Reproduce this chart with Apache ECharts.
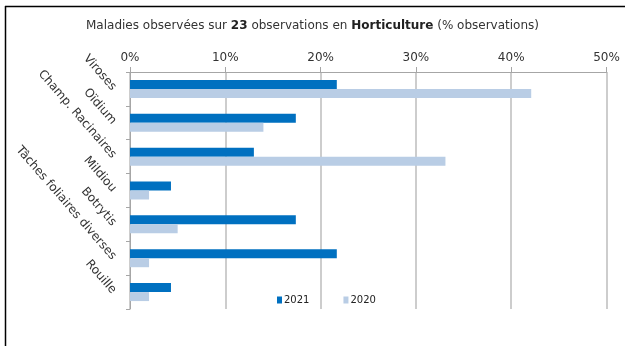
<!DOCTYPE html>
<html><head><meta charset="utf-8">
<script src="https://cdn.jsdelivr.net/npm/echarts@6/dist/echarts.min.js"></script>
<style>html,body{margin:0;padding:0;background:#fff}#c{width:625px;height:346px}</style>
</head><body><div id="c"></div>
<script>
const categories = ["Viroses","Oïdium","Champ. Racinaires","Mildiou","Botrytis","Tâches foliaires diverses","Rouille"];
const values2021 = [21.7, 17.4, 13.0, 4.3, 17.4, 21.7, 4.3];
const values2020 = [42.1, 14.0, 33.1, 2.0, 5.0, 2.0, 2.0];
const tickLabels = ["0%","10%","20%","30%","40%","50%"];
const seriesNames = ["2021","2020"];

const chart = echarts.init(document.getElementById('c'), null, {renderer:'canvas'});
const font = 'Tahoma, "DejaVu Sans", sans-serif';
chart.setOption({
  animation:false,
  textStyle:{fontFamily:font},
  title:{
    text:'Maladies observées sur {b|23} observations en {b|Horticulture} (% observations)',
    left:'center', top:15,
    textStyle:{fontSize:12, fontWeight:'normal', color:'#333', fontFamily:font,
      rich:{b:{fontWeight:'bold', fontSize:12, color:'#222', fontFamily:font}}}
  },
  graphic:[
    {type:'line', shape:{x1:5, y1:6.5, x2:625, y2:6.5}, style:{stroke:'#000', lineWidth:1.5}},
    {type:'line', shape:{x1:5.5, y1:6, x2:5.5, y2:346}, style:{stroke:'#000', lineWidth:1.5}}
  ],
  legend:{
    data:seriesNames, left:272, top:290, itemWidth:5, itemHeight:7, itemGap:34,
    icon:'rect', textStyle:{fontSize:10, color:'#222', fontFamily:font, padding:[0,0,0,-3]}
  },
  grid:{left:130, right:18.5, top:72, height:237, containLabel:false},
  xAxis:{
    type:'value', position:'top', min:0, max:50, interval:10,
    axisLine:{show:true, lineStyle:{color:'#a6a6a6', width:1}},
    axisTick:{show:true, length:5, lineStyle:{color:'#a6a6a6'}},
    axisLabel:{formatter:v=>tickLabels[Math.round(v/10)], fontSize:12, color:'#333', margin:8, fontFamily:font},
    splitLine:{show:true, lineStyle:{color:'#bdbdbd', width:1.5}}
  },
  yAxis:{
    type:'category', data:categories, inverse:true,
    axisLine:{show:true, lineStyle:{color:'#a6a6a6'}},
    axisTick:{show:true, length:4, lineStyle:{color:'#a6a6a6'}},
    axisLabel:{rotate:-49, fontSize:12, color:'#333', margin:16, fontFamily:font}
  },
  series:[
    {name:seriesNames[0], type:'bar', data:values2021, barWidth:9, barGap:'0%', itemStyle:{color:'#0070c0'}},
    {name:seriesNames[1], type:'bar', data:values2020, barWidth:9, barGap:'0%', itemStyle:{color:'#b9cde5'}}
  ]
});
</script></body></html>
